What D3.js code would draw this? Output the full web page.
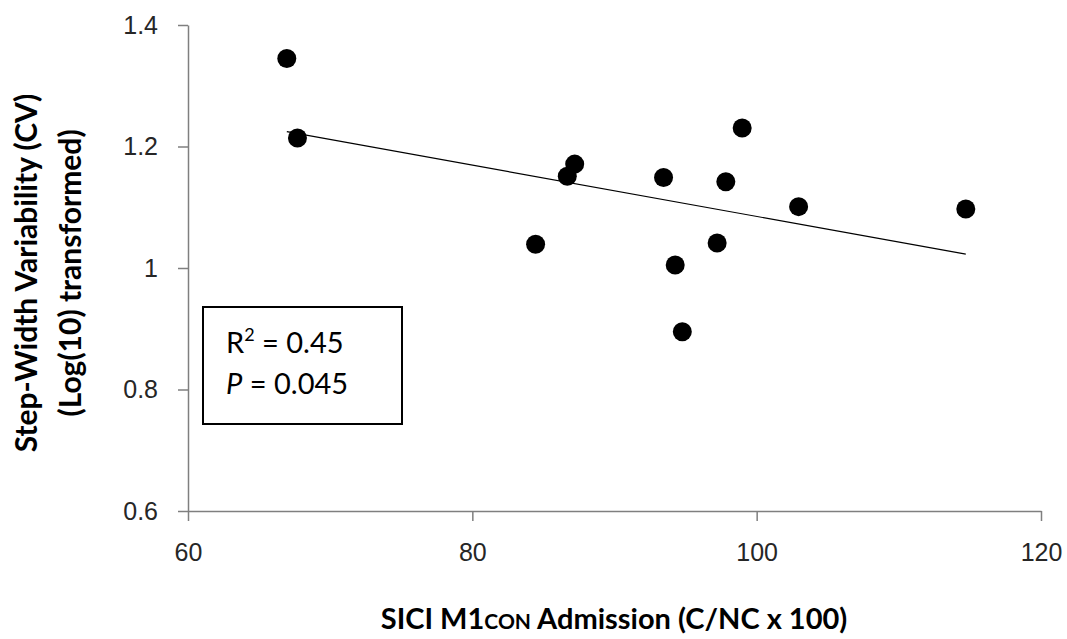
<!DOCTYPE html>
<html>
<head>
<meta charset="utf-8">
<script src="https://cdn.jsdelivr.net/npm/d3@7"></script>
<style>
  body { margin: 0; background: #fff; }
  svg { font-family: Lato, "Open Sans", sans-serif; }
</style>
</head>
<body>
<svg id="chart" width="1067" height="639"></svg>
<script>
// SICI M1con admission (x) vs step-width variability, log10 CV (y)
const sici = [66.95, 67.7, 87.2, 86.68, 84.45, 98.98, 93.45, 97.83, 102.95, 114.71, 97.22, 94.27, 94.77];
const swv = [1.345, 1.214, 1.171, 1.151, 1.039, 1.2305, 1.149, 1.142, 1.101, 1.097, 1.041, 1.005, 0.895];
const xTicks = [60, 80, 100, 120];
const yTicks = [0.6, 0.8, 1, 1.2, 1.4];

const margin = {top: 25, right: 26, bottom: 128, left: 188};
const width = 1067 - margin.left - margin.right;
const height = 639 - margin.top - margin.bottom;

const svg = d3.select("#chart");
const g = svg.append("g")
    .attr("transform", "translate(" + margin.left + "," + margin.top + ")");

const x = d3.scaleLinear().domain([60, 120]).range([0, width]);
const y = d3.scaleLinear().domain([0.6, 1.4]).range([height, 0]);

const axisColor = "#7f7f7f";

// x axis
const xAxis = g.append("g")
    .attr("transform", "translate(0," + height + ")")
    .call(d3.axisBottom(x).tickValues(xTicks).tickFormat(d3.format("d")).tickSize(10).tickSizeOuter(0));
xAxis.select(".domain").attr("stroke", axisColor).attr("stroke-width", 1.5);
xAxis.selectAll(".tick line").attr("stroke", axisColor).attr("stroke-width", 1.5);
xAxis.selectAll("text")
    .attr("y", 32)
    .attr("fill", "#262626")
    .style("font-size", "25px");

// y axis
const yAxis = g.append("g")
    .call(d3.axisLeft(y).tickValues(yTicks).tickFormat(d => String(d)).tickSize(10).tickSizeOuter(0));
yAxis.select(".domain").attr("stroke", axisColor).attr("stroke-width", 1.5);
yAxis.selectAll(".tick line").attr("stroke", axisColor).attr("stroke-width", 1.5);
yAxis.selectAll("text")
    .attr("x", -30)
    .attr("fill", "#262626")
    .style("font-size", "25px");

// linear trend line (least squares)
const pts = sici.map((d, i) => [d, swv[i]]);
const mx = d3.mean(sici), my = d3.mean(swv);
const slope = d3.sum(pts, p => (p[0] - mx) * (p[1] - my)) / d3.sum(pts, p => (p[0] - mx) ** 2);
const icpt = my - slope * mx;
const [x0, x1] = d3.extent(sici);
g.append("line")
    .attr("x1", x(x0)).attr("y1", y(icpt + slope * x0))
    .attr("x2", x(x1)).attr("y2", y(icpt + slope * x1))
    .attr("stroke", "#000")
    .attr("stroke-width", 1.2);

// points
g.selectAll(".dot")
    .data(pts)
    .enter().append("circle")
    .attr("class", "dot")
    .attr("cx", d => x(d[0]))
    .attr("cy", d => y(d[1]))
    .attr("r", 9.5)
    .attr("fill", "#000");

// stats box
const box = g.append("g").attr("transform", "translate(15,282)");
box.append("rect")
    .attr("width", 199).attr("height", 117)
    .attr("fill", "#fff").attr("stroke", "#000").attr("stroke-width", 2);
const t1 = box.append("text").attr("x", 23).attr("y", 46).style("font-size", "29px").attr("fill", "#000");
t1.append("tspan").text("R");
t1.append("tspan").text("2").attr("dy", -12).style("font-size", "18px");
t1.append("tspan").text(" = 0.45").attr("dy", 12);
const t2 = box.append("text").attr("x", 23).attr("y", 87).style("font-size", "29px").attr("fill", "#000");
t2.append("tspan").text("P").style("font-style", "italic");
t2.append("tspan").text(" = 0.045");

// x axis title
const xt = svg.append("text")
    .attr("x", 614).attr("y", 629)
    .attr("text-anchor", "middle")
    .style("font-size", "29px").style("font-weight", "bold")
    .attr("fill", "#000");
xt.append("tspan").text("SICI M1");
xt.append("tspan").text("CON").style("font-size", "21px");
xt.append("tspan").text(" Admission (C/NC x 100)");

// y axis title
const yt = svg.append("text")
    .attr("transform", "translate(37,273) rotate(-90)")
    .attr("text-anchor", "middle")
    .style("font-size", "30px").style("font-weight", "bold")
    .attr("fill", "#000");
yt.append("tspan").attr("x", 0).attr("dy", 0).text("Step-Width Variability (CV)");
yt.append("tspan").attr("x", 0).attr("dy", 44).text("(Log(10) transformed)");
</script>
</body>
</html>
